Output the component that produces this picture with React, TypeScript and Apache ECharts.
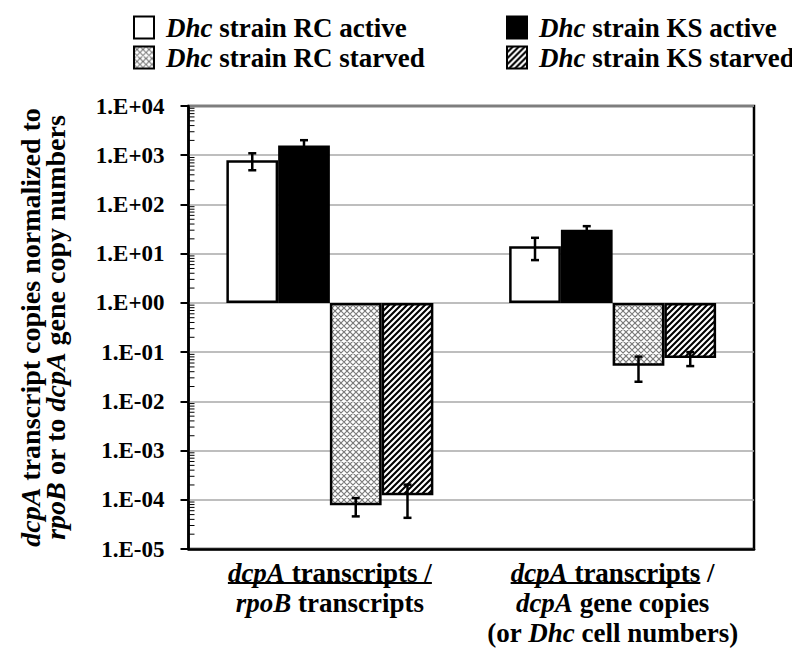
import React, { useEffect, useRef } from 'react';
import * as echarts from 'echarts';

const FONT = '"Liberation Serif", "Times New Roman", serif';

// ---------- data ----------
const categories = [
  'dcpA transcripts /\nrpoB transcripts',
  'dcpA transcripts /\ndcpA gene copies\n(or Dhc cell numbers)',
];
const seriesNames = [
  'Dhc strain RC active',
  'Dhc strain KS active',
  'Dhc strain RC starved',
  'Dhc strain KS starved',
];
const rcActive = [795, 14.2];
const ksActive = [1570, 30.5];
const rcStarved = [7.7e-5, 0.053];
const ksStarved = [1.23e-4, 0.076];
const rcActiveSd = [300, 6.8];
const ksActiveSd = [450, 5.7];
const rcStarvedSd = [3.1e-5, 0.028];
const ksStarvedSd = [8.0e-5, 0.024];
const yMin = 1e-5;
const yMax = 1e4;

const italicWords = /\b(dcpA|rpoB|Dhc)\b/g;
const richify = (s: string) => s.replace(italicWords, '{i|$1}');

const svgUrl = (s: string) => 'data:image/svg+xml;charset=utf-8,' + encodeURIComponent(s);

function hatchTile() {
  const segs: string[] = [];
  for (const c of [0, 6, 12, 18, 24]) segs.push(`M-1,${c + 1} L13,${c - 13}`);
  return svgUrl(
    `<svg xmlns="http://www.w3.org/2000/svg" width="12" height="12"><rect width="12" height="12" fill="#fff"/><path d="${segs.join(' ')}" stroke="#000" stroke-width="2.1" fill="none"/></svg>`
  );
}
function crossTile() {
  const segs: string[] = [];
  for (const c of [-12, -6, 0, 6, 12]) segs.push(`M-1,${-1 - c} L13,${13 - c}`);
  for (const c of [0, 6, 12, 18, 24]) segs.push(`M-1,${c + 1} L13,${c - 13}`);
  return svgUrl(
    `<svg xmlns="http://www.w3.org/2000/svg" width="12" height="12"><rect width="12" height="12" fill="#fff"/><path d="${segs.join(' ')}" stroke="#7a7a7a" stroke-width="1.2" fill="none"/></svg>`
  );
}

const BAR_GAP = 0.268;
const X_FONT = 27;
const X_LH = 30;
const X_MARGIN = 9;

export default function App() {
  const ref = useRef<HTMLDivElement>(null);

  useEffect(() => {
    if (!ref.current) return;
    const chart = echarts.init(ref.current, undefined, { renderer: 'svg' });

    const hatch = { image: hatchTile(), repeat: 'repeat', imageWidth: 12, imageHeight: 12 };
    const cross = { image: crossTile(), repeat: 'repeat', imageWidth: 12, imageHeight: 12 };

    const bars = [
      { name: seriesNames[0], values: rcActive, sd: rcActiveSd, color: '#fff' as any },
      { name: seriesNames[1], values: ksActive, sd: ksActiveSd, color: '#000' as any },
      { name: seriesNames[2], values: rcStarved, sd: rcStarvedSd, color: cross as any },
      { name: seriesNames[3], values: ksStarved, sd: ksStarvedSd, color: hatch as any },
    ];

    const errData: number[][] = [];
    bars.forEach((b, s) =>
      b.values.forEach((v, c) => {
        errData.push([c, s, Math.max(v - b.sd[c], v * 0.05), v + b.sd[c]]);
      })
    );

    const minorTicks: number[][] = [];
    for (let d = -5; d < 4; d++) for (let k = 2; k <= 9; k++) minorTicks.push([0, k * Math.pow(10, d)]);

    const legendText = {
      fontFamily: FONT,
      fontSize: 27,
      fontWeight: 'bold',
      color: '#000',
      padding: [0, 0, 0, 7],
      rich: { i: { fontFamily: FONT, fontSize: 27, fontWeight: 'bold', fontStyle: 'italic', color: '#000' } },
    };
    const legendBase = {
      orient: 'vertical',
      top: 6,
      padding: 0,
      itemWidth: 20,
      itemHeight: 22,
      itemGap: 3,
      icon: 'rect',
      selectedMode: false,
      formatter: richify,
      textStyle: legendText,
    };

    const option: any = {
      animation: false,
      backgroundColor: '#fff',
      textStyle: { fontFamily: FONT },
      grid: {
        left: 174,
        right: 54,
        top: 98,
        bottom: 109,
        show: true,
        borderColor: '#000',
        borderWidth: 2.5,
        backgroundColor: 'transparent',
      },
      legend: [
        { ...legendBase, data: [seriesNames[0], seriesNames[2]], left: 125 },
        { ...legendBase, data: [seriesNames[1], seriesNames[3]], left: 498 },
      ],
      xAxis: {
        type: 'category',
        data: categories,
        axisLine: { onZero: false, lineStyle: { color: '#000', width: 2.5 } },
        axisTick: { show: false },
        splitLine: { show: false },
        axisLabel: {
          interval: 0,
          margin: X_MARGIN,
          fontFamily: FONT,
          fontSize: X_FONT,
          fontWeight: 'bold',
          color: '#000',
          lineHeight: X_LH,
          formatter: richify,
          rich: {
            i: { fontFamily: FONT, fontSize: X_FONT, fontWeight: 'bold', fontStyle: 'italic', color: '#000', lineHeight: X_LH },
          },
        },
      },
      yAxis: {
        type: 'log',
        logBase: 10,
        min: yMin,
        max: yMax,
        interval: 1,
        name: '{i|dcpA} transcript copies normalized to\n{i|rpoB} or to {i|dcpA} gene copy numbers',
        nameLocation: 'middle',
        nameRotate: 90,
        nameGap: 121,
        nameTextStyle: {
          fontFamily: FONT,
          fontSize: 28,
          fontWeight: 'bold',
          color: '#000',
          lineHeight: 25,
          rich: { i: { fontFamily: FONT, fontSize: 28, fontWeight: 'bold', fontStyle: 'italic', color: '#000', lineHeight: 25 } },
        },
        axisLine: { show: true, lineStyle: { color: '#000', width: 2.5 } },
        axisTick: { show: true, length: 8, lineStyle: { color: '#000', width: 2 } },
        axisLabel: {
          margin: 24,
          fontFamily: FONT,
          fontSize: 23,
          fontWeight: 'bold',
          color: '#000',
          formatter: (v: number) => {
            const e = Math.round(Math.log10(v));
            const a = Math.abs(e);
            return '1.E' + (e < 0 ? '-' : '+') + (a < 10 ? '0' + a : String(a));
          },
        },
        splitLine: { show: true, lineStyle: { color: '#a8a8a8', width: 1.5 } },
      },
      series: [
        ...bars.map((b) => ({
          name: b.name,
          type: 'bar',
          data: b.values,
          barGap: '0%',
          barCategoryGap: BAR_GAP * 100 + '%',
          itemStyle: { color: b.color, borderColor: '#000', borderWidth: 2.5 },
          z: 2,
        })),
        {
          type: 'custom',
          name: 'err',
          data: errData,
          encode: { x: 0, y: 2 },
          z: 5,
          silent: true,
          renderItem: (params: any, api: any) => {
            const c = api.value(0);
            const s = api.value(1);
            const lo = api.coord([c, api.value(2)]);
            const hi = api.coord([c, api.value(3)]);
            const band = api.size([1, 0])[0];
            const bw = (band * (1 - BAR_GAP)) / 4;
            const x = lo[0] + (s - 1.5) * bw;
            const st = { stroke: '#000', lineWidth: 2.5 };
            return {
              type: 'group',
              children: [
                { type: 'line', shape: { x1: x, y1: lo[1], x2: x, y2: hi[1] }, style: st },
                { type: 'line', shape: { x1: x - 4, y1: lo[1], x2: x + 4, y2: lo[1] }, style: st },
                { type: 'line', shape: { x1: x - 4, y1: hi[1], x2: x + 4, y2: hi[1] }, style: st },
              ],
            };
          },
        },
        {
          type: 'custom',
          name: 'minor',
          data: minorTicks,
          encode: { x: 0, y: 1 },
          z: 5,
          silent: true,
          renderItem: (params: any, api: any) => {
            const y = api.coord([0, api.value(1)])[1];
            const x0 = params.coordSys.x;
            return {
              type: 'line',
              shape: { x1: x0, y1: y, x2: x0 + 6, y2: y },
              style: { stroke: '#000', lineWidth: 1 },
            };
          },
        },
      ],
    };

    chart.setOption(option);

    // underline the first line of each category label
    const canvas = document.createElement('canvas');
    const ctx = canvas.getContext('2d');
    const measure = (parts: [string, boolean][]) => {
      let w = 0;
      if (!ctx) return 0;
      for (const [t, it] of parts) {
        ctx.font = `${it ? 'italic ' : ''}bold ${X_FONT}px ${FONT}`;
        w += ctx.measureText(t).width;
      }
      return w;
    };
    const yBottom = chart.convertToPixel({ yAxisIndex: 0 }, yMin) as number;
    const uy = yBottom + X_MARGIN + X_LH / 2 + 10;
    const graphics: any[] = [];
    categories.forEach((cat, i) => {
      const cx = chart.convertToPixel({ xAxisIndex: 0 }, i) as number;
      const first = cat.split('\n')[0];
      const m = first.match(/^(dcpA)(.*)$/);
      const parts: [string, boolean][] = m ? [[m[1], true], [m[2], false]] : [[first, false]];
      const w = measure(parts);
      const x1 = cx - w / 2;
      let x2 = cx + w / 2;
      if (i === 1) x2 = x1 + measure([[m ? m[1] : '', true], [' transcripts', false]]);
      graphics.push({
        type: 'line',
        shape: { x1, y1: uy, x2, y2: uy },
        style: { stroke: '#000', lineWidth: 2 },
        silent: true,
      });
    });
    chart.setOption({ graphic: graphics });

    return () => chart.dispose();
  }, []);

  return <div ref={ref} style={{ width: 800, height: 650 }} />;
}
